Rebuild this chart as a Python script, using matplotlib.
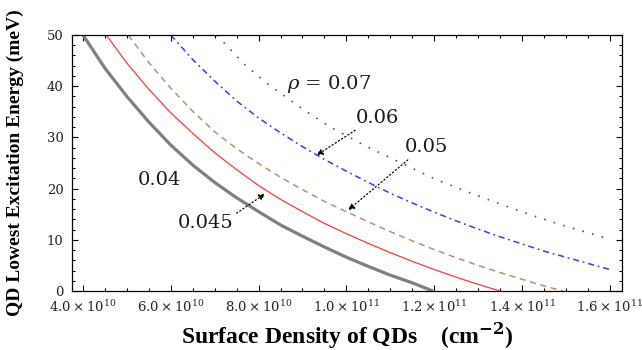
import matplotlib
matplotlib.use('Agg')
import matplotlib.pyplot as plt
from matplotlib.ticker import MultipleLocator, FixedLocator

# Surface density in units of 1e10 cm^-2, energy in meV
n_040 = [4.0, 4.5, 5.0, 5.5, 6.0, 6.5, 7.0, 7.5, 8.0, 8.5, 9.0, 9.5, 10.0, 10.5, 11.0, 11.5, 11.97]
e_040 = [50.0, 43.5, 38.0, 33.0, 28.5, 24.6, 21.2, 18.2, 15.5, 12.9, 10.7, 8.6, 6.6, 4.8, 3.1, 1.6, 0.0]

n_045 = [4.53, 5.0, 5.5, 6.0, 6.5, 7.0, 7.5, 8.0, 8.5, 9.0, 9.5, 10.0, 10.5, 11.0, 11.5, 12.0, 12.5, 13.0, 13.5]
e_045 = [50.0, 44.5, 39.4, 34.8, 30.8, 27.0, 23.7, 20.6, 17.9, 15.5, 13.2, 11.2, 9.3, 7.5, 5.8, 4.2, 2.7, 1.3, 0.0]

n_050 = [5.03, 5.5, 6.0, 6.5, 7.0, 7.5, 8.0, 8.5, 9.0, 9.5, 10.0, 10.5, 11.0, 11.5, 12.0, 12.5, 13.0, 13.5, 14.0, 14.5, 14.93]
e_050 = [50.0, 44.6, 39.6, 35.1, 31.1, 27.8, 24.9, 22.2, 19.8, 17.5, 15.5, 13.5, 11.6, 9.8, 8.1, 6.5, 5.0, 3.6, 2.3, 1.0, 0.0]

n_060 = [6.0, 6.5, 7.0, 7.5, 8.0, 8.5, 9.0, 9.5, 10.0, 10.5, 11.0, 11.5, 12.0, 12.5, 13.0, 13.5, 14.0, 14.5, 15.0, 15.5, 16.0]
e_060 = [50.0, 45.2, 41.0, 37.1, 33.8, 30.9, 28.2, 25.7, 23.4, 21.2, 19.1, 17.2, 15.4, 13.7, 12.1, 10.6, 9.2, 7.8, 6.6, 5.4, 4.2]

n_070 = [7.05, 7.18, 7.65, 8.18, 8.64, 9.06, 9.66, 10.42, 11.1, 11.52, 12.06, 12.78, 13.5, 14.26, 15.02, 15.97]
e_070 = [50.0, 48.8, 44.5, 40.6, 37.8, 35.2, 31.9, 28.4, 25.6, 23.9, 21.7, 19.3, 17.0, 14.7, 12.6, 10.2]

x_ticks = [4, 6, 8, 10, 12, 14, 16]
x_tick_labels = [r'$4.0\times10^{10}$', r'$6.0\times10^{10}$', r'$8.0\times10^{10}$',
                 r'$1.0\times10^{11}$', r'$1.2\times10^{11}$', r'$1.4\times10^{11}$',
                 r'$1.6\times10^{11}$']

plt.rcParams['font.family'] = 'DejaVu Serif'
plt.rcParams['mathtext.fontset'] = 'dejavuserif'

fig = plt.figure(figsize=(6.42, 3.5), dpi=100)
ax = fig.add_axes([72 / 642, 59 / 350, 550 / 642, 256 / 350])

ax.plot(n_040, e_040, color='#808080', lw=2.3, solid_capstyle='butt')
ax.plot(n_045, e_045, color='#ff3a3a', lw=0.9)
ax.plot(n_050, e_050, color='#b8926e', lw=1.1, dashes=(4, 3))
ax.plot(n_060, e_060, color='#3a3aff', lw=1.1, dashes=(4, 2.5, 1.2, 2.5))
ax.plot(n_070, e_070, color='#555555', lw=1.2, dashes=(1, 5))

ax.set_xlim(3.749, 16.28)
ax.set_ylim(0, 50)

# labels on the curves
txt = dict(fontsize=14, color='#1a1a1a', ha='left', va='center')
ax.text(8.65, 40.4, r'$\rho$ = 0.07', **txt)
ax.text(10.22, 33.8, '0.06', **txt)
ax.text(11.33, 28.1, '0.05', **txt)
ax.text(5.25, 21.7, '0.04', **txt)
ax.text(6.16, 13.3, '0.045', **txt)

arrow = dict(arrowstyle='-|>', linestyle=(0, (1, 2)), lw=0.9, color='black',
             mutation_scale=9, shrinkA=0, shrinkB=0)
ax.annotate('', xy=(9.32, 26.5), xytext=(10.2, 31.4), arrowprops=arrow)
ax.annotate('', xy=(10.04, 15.8), xytext=(11.4, 25.6), arrowprops=arrow)
ax.annotate('', xy=(8.15, 19.0), xytext=(7.5, 15.2), arrowprops=arrow)

ax.xaxis.set_major_locator(FixedLocator(x_ticks))
ax.set_xticklabels(x_tick_labels)
ax.xaxis.set_minor_locator(MultipleLocator(0.5))
ax.yaxis.set_major_locator(MultipleLocator(10))
ax.yaxis.set_minor_locator(MultipleLocator(2))
ax.tick_params(which='both', direction='in', top=True, right=True, width=0.8)
ax.tick_params(which='major', length=4)
ax.tick_params(which='minor', length=2.2)
ax.tick_params(axis='x', labelsize=9.5, pad=6, labelcolor='#222222')
ax.tick_params(axis='y', labelsize=9.5, pad=6, labelcolor='#222222')
for s in ax.spines.values():
    s.set_linewidth(0.9)

ax.set_xlabel(r'Surface Density of QDs    (cm$^{\mathbf{-2}}$)', fontsize=17,
              fontweight='bold', family='Liberation Serif')
ax.set_ylabel('QD Lowest Excitation Energy (meV)', fontsize=14,
              fontweight='bold', family='Liberation Serif')
ax.xaxis.set_label_coords(0.5, -0.115)
ax.yaxis.set_label_coords(-0.087, 0.5)

fig.savefig('out.png', dpi=100)
